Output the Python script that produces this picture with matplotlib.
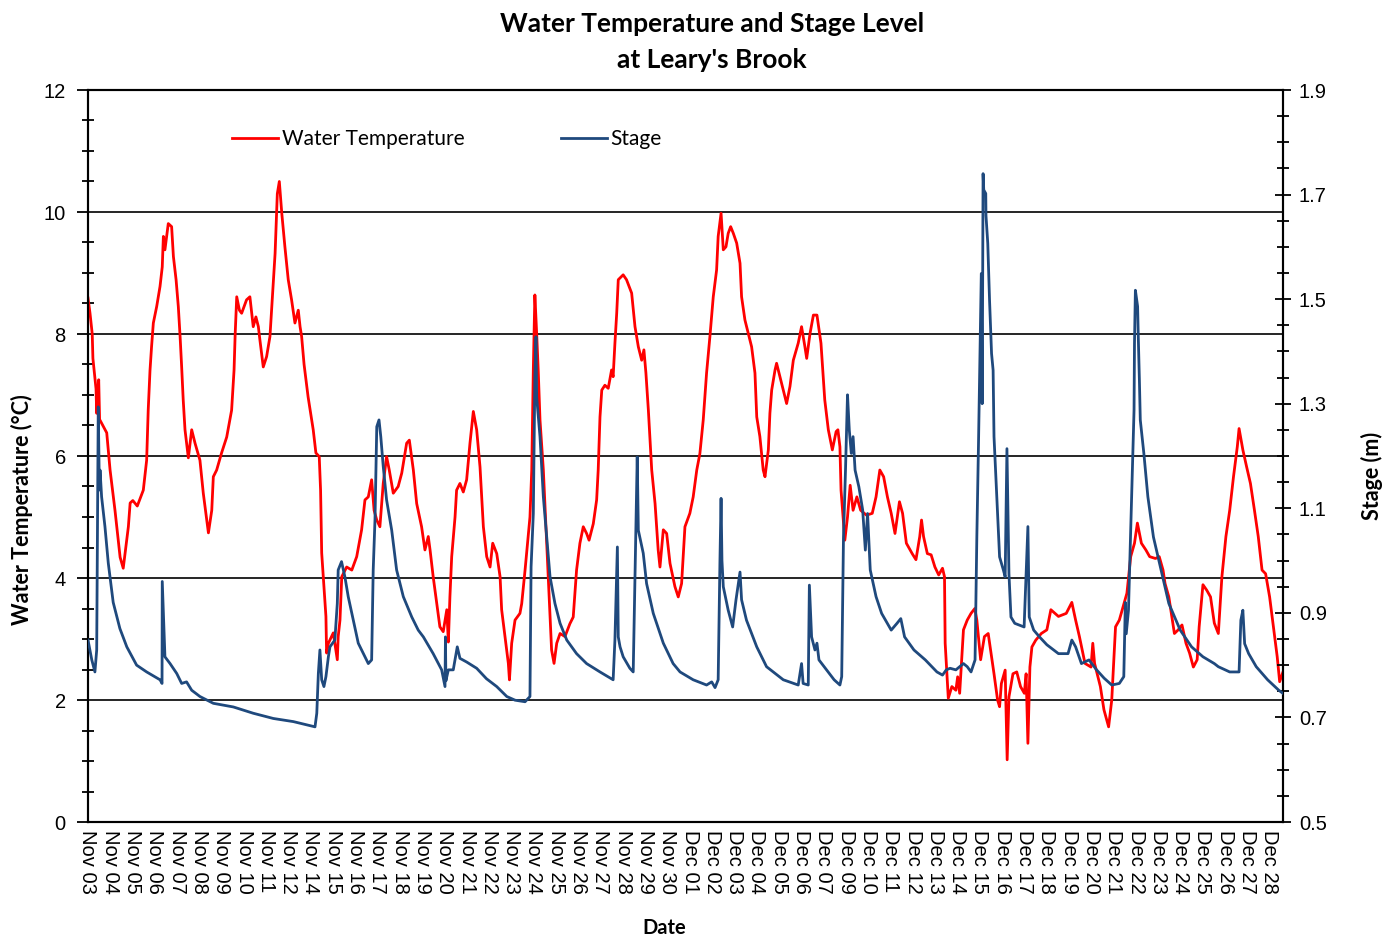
import matplotlib
matplotlib.use("Agg")
import matplotlib.pyplot as plt
from matplotlib.ticker import MultipleLocator, FixedLocator

# x positions are in label units (0 = "Nov 03", 1 = next label, ...)
date_labels = ["Nov 03", "Nov 04", "Nov 05", "Nov 06", "Nov 07", "Nov 08", "Nov 09",
               "Nov 10", "Nov 11", "Nov 12", "Nov 14", "Nov 15", "Nov 16", "Nov 17",
               "Nov 18", "Nov 19", "Nov 20", "Nov 21", "Nov 22", "Nov 23", "Nov 24",
               "Nov 25", "Nov 26", "Nov 27", "Nov 28", "Nov 29", "Nov 30", "Dec 01",
               "Dec 02", "Dec 03", "Dec 04", "Dec 05", "Dec 06", "Dec 07", "Dec 09",
               "Dec 10", "Dec 11", "Dec 12", "Dec 13", "Dec 14", "Dec 15", "Dec 16",
               "Dec 17", "Dec 18", "Dec 19", "Dec 20", "Dec 21", "Dec 22", "Dec 23",
               "Dec 24", "Dec 25", "Dec 26", "Dec 27", "Dec 28"]

# water temperature (deg C)
temp_x = [0.00, 0.09, 0.19, 0.22, 0.36, 0.39, 0.48, 0.52, 0.84, 0.99, 1.21, 1.44, 1.58,
          1.81, 1.89, 2.01, 2.21, 2.48, 2.63, 2.70, 2.78, 2.85, 2.93, 3.08, 3.23, 3.33,
          3.38, 3.45, 3.60, 3.75, 3.83, 3.95, 4.05, 4.13, 4.20, 4.27, 4.35, 4.50, 4.65,
          4.80, 5.02, 5.17, 5.40, 5.55, 5.62, 5.77, 5.99, 6.22, 6.44, 6.55, 6.60, 6.67,
          6.79, 6.89, 7.11, 7.26, 7.41, 7.53, 7.64, 7.71, 7.86, 8.01, 8.16, 8.28, 8.39,
          8.49, 8.58, 8.69, 8.83, 8.98, 9.13, 9.28, 9.43, 9.51, 9.58, 9.69, 9.87, 10.10,
          10.22, 10.37, 10.43, 10.48, 10.55, 10.67, 10.70, 10.78, 11.00, 11.18, 11.22,
          11.30, 11.38, 11.60, 11.83, 12.05, 12.27, 12.42, 12.57, 12.72, 12.83, 12.95,
          13.09, 13.24, 13.39, 13.51, 13.69, 13.91, 14.07, 14.29, 14.41, 14.59, 14.74,
          14.96, 15.11, 15.26, 15.34, 15.48, 15.64, 15.78, 15.93, 16.09, 16.16, 16.23,
          16.31, 16.46, 16.53, 16.68, 16.83, 16.98, 17.13, 17.28, 17.43, 17.58, 17.73,
          17.88, 18.03, 18.15, 18.33, 18.48, 18.55, 18.70, 18.85, 18.90, 19.00, 19.15,
          19.37, 19.45, 19.60, 19.74, 19.82, 19.90, 19.97, 20.04, 20.12, 20.19, 20.27,
          20.42, 20.57, 20.72, 20.79, 20.90, 21.02, 21.17, 21.39, 21.61, 21.76, 21.91,
          22.06, 22.21, 22.36, 22.47, 22.66, 22.81, 22.88, 22.96, 23.04, 23.18, 23.33,
          23.48, 23.55, 23.63, 23.71, 23.78, 24.00, 24.15, 24.38, 24.53, 24.68, 24.83,
          24.93, 25.02, 25.13, 25.28, 25.43, 25.57, 25.65, 25.80, 25.95, 26.10, 26.32,
          26.47, 26.62, 26.77, 26.99, 27.14, 27.30, 27.44, 27.59, 27.74, 27.89, 28.04,
          28.19, 28.26, 28.39, 28.49, 28.61, 28.71, 28.82, 28.94, 29.09, 29.24, 29.31,
          29.46, 29.61, 29.76, 29.91, 29.99, 30.13, 30.28, 30.36, 30.51, 30.58, 30.66,
          30.81, 30.88, 31.03, 31.18, 31.33, 31.48, 31.63, 31.85, 32.00, 32.15, 32.23,
          32.38, 32.53, 32.69, 32.87, 33.04, 33.20, 33.38, 33.55, 33.63, 33.72, 33.77,
          33.84, 33.94, 34.06, 34.18, 34.31, 34.48, 34.65, 34.91, 35.17, 35.34, 35.51,
          35.68, 35.85, 36.02, 36.19, 36.39, 36.53, 36.70, 36.96, 37.13, 37.30, 37.38,
          37.47, 37.64, 37.81, 37.98, 38.15, 38.32, 38.41, 38.44, 38.58, 38.74, 38.92,
          39.00, 39.09, 39.26, 39.43, 39.60, 39.77, 39.86, 40.03, 40.20, 40.37, 40.54,
          40.63, 40.79, 40.88, 40.96, 41.13, 41.22, 41.30, 41.48, 41.65, 41.82, 41.99,
          42.07, 42.15, 42.24, 42.33, 42.50, 42.75, 43.00, 43.18, 43.52, 43.87, 44.12,
          44.29, 44.46, 44.71, 44.98, 45.06, 45.14, 45.40, 45.56, 45.77, 45.91, 46.08,
          46.25, 46.42, 46.59, 46.76, 46.93, 47.06, 47.24, 47.44, 47.61, 47.87, 48.04,
          48.21, 48.30, 48.47, 48.72, 48.89, 49.06, 49.24, 49.40, 49.57, 49.74, 49.83,
          50.00, 50.17, 50.34, 50.51, 50.69, 50.85, 51.03, 51.20, 51.37, 51.54, 51.62,
          51.79, 51.96, 52.13, 52.31, 52.48, 52.65, 52.81, 52.99, 53.16, 53.33, 53.44,
          53.59]
temp_c = [8.59, 8.34, 8.00, 7.60, 7.10, 6.70, 7.25, 6.60, 6.38, 5.77, 5.11, 4.34, 4.16,
          4.84, 5.23, 5.27, 5.18, 5.44, 5.93, 6.75, 7.40, 7.79, 8.18, 8.45, 8.78, 9.10,
          9.60, 9.38, 9.81, 9.76, 9.27, 8.89, 8.45, 7.96, 7.46, 6.92, 6.43, 5.97, 6.43,
          6.21, 5.93, 5.39, 4.74, 5.11, 5.66, 5.77, 6.05, 6.31, 6.75, 7.41, 8.00, 8.61,
          8.39, 8.34, 8.56, 8.61, 8.12, 8.28, 8.12, 7.90, 7.46, 7.63, 7.96, 8.67, 9.32,
          10.30, 10.50, 9.98, 9.43, 8.89, 8.56, 8.18, 8.39, 8.12, 7.96, 7.50, 6.97, 6.43,
          6.05, 5.99, 5.44, 4.41, 4.02, 3.37, 2.77, 2.93, 3.10, 2.66, 3.04,
          3.31, 4.02, 4.18, 4.13, 4.35, 4.79, 5.28, 5.33, 5.61, 5.11, 4.95,
          4.84, 5.55, 5.99, 5.77, 5.39, 5.50, 5.72, 6.21, 6.26, 5.77, 5.22,
          4.84, 4.46, 4.68, 4.46, 4.02, 3.58, 3.20, 3.12, 3.48, 2.95, 3.69,
          4.35, 5.00, 5.44, 5.55, 5.41, 5.61, 6.21, 6.73, 6.43, 5.82, 4.84,
          4.35, 4.18, 4.57, 4.40, 4.02, 3.48, 3.04, 2.60, 2.33, 2.93, 3.31,
          3.42, 3.58, 4.13, 4.68, 5.00, 5.77, 7.41, 8.64, 8.01, 7.41, 6.59,
          5.77, 4.57, 3.36, 2.82, 2.60, 2.93, 3.09, 3.04, 3.25, 3.36, 4.13,
          4.57, 4.84, 4.73, 4.62, 4.89, 5.28, 5.77, 6.64, 7.08, 7.16, 7.11,
          7.41, 7.30, 7.85, 8.34, 8.89, 8.97, 8.89, 8.67, 8.12, 7.79, 7.57,
          7.74, 7.36, 6.75, 5.77, 5.22, 4.46, 4.18, 4.79, 4.73, 4.24, 3.86,
          3.69, 3.91, 4.84, 5.06, 5.33, 5.77, 6.04, 6.59, 7.36, 7.96, 8.61,
          9.05, 9.60, 9.98, 9.38, 9.43, 9.65, 9.76, 9.65, 9.49, 9.16, 8.61,
          8.23, 8.01, 7.79, 7.36, 6.64, 6.32, 5.77, 5.66, 6.10, 6.70, 7.08,
          7.41, 7.52, 7.30, 7.08, 6.86, 7.14, 7.57, 7.85, 8.12, 7.79, 7.60,
          8.01, 8.31, 8.31, 7.85, 6.92, 6.43, 6.10, 6.40, 6.43, 6.15, 5.44,
          5.11, 4.62, 5.00, 5.52, 5.11, 5.33, 5.11, 5.03, 5.06, 5.33, 5.77,
          5.66, 5.33, 5.06, 4.73, 5.25, 5.06, 4.57, 4.40, 4.30, 4.68, 4.95,
          4.68, 4.40, 4.38, 4.18, 4.05, 4.16, 4.02, 2.93, 2.03, 2.22, 2.16,
          2.38, 2.11, 3.15, 3.31, 3.42, 3.50, 3.31, 2.66, 3.04, 3.09, 2.66,
          2.43, 2.00, 1.89, 2.27, 2.49, 1.02, 2.05, 2.43, 2.46, 2.22, 2.11,
          2.43, 1.29, 2.54, 2.87, 2.98, 3.09, 3.15, 3.48, 3.37, 3.42, 3.60,
          3.31, 3.04, 2.60, 2.54, 2.93, 2.60, 2.22, 1.84, 1.56, 2.00, 3.20,
          3.31, 3.53, 3.75, 4.35, 4.57, 4.90, 4.57, 4.46, 4.35, 4.32, 4.35,
          4.13, 3.91, 3.69, 3.09, 3.15, 3.23, 2.93, 2.77, 2.54, 2.66, 3.20,
          3.89, 3.80, 3.69, 3.26, 3.09, 4.02, 4.68, 5.11, 5.66, 6.15, 6.45,
          6.10, 5.82, 5.55, 5.11, 4.68, 4.13, 4.07, 3.69, 3.20, 2.71, 2.30,
          2.46]

# stage (m)
stage_x = [0.00, 0.17, 0.31, 0.39, 0.46, 0.51, 0.54, 0.61, 0.76, 0.91, 1.13, 1.43, 1.74,
           2.18, 2.63, 3.23, 3.32, 3.33, 3.41, 3.45, 3.68, 3.98, 4.20, 4.42, 4.65, 5.02,
           5.62, 6.52, 7.41, 8.31, 9.21, 10.18, 10.26, 10.33, 10.40, 10.48, 10.58, 10.67,
           10.78, 10.85, 11.07, 11.18, 11.22, 11.37, 11.52, 11.67, 11.90, 12.12, 12.42,
           12.57, 12.72, 12.79, 12.87, 12.95, 13.05, 13.13, 13.24, 13.39, 13.62, 13.84,
           14.14, 14.52, 14.81, 15.04, 15.48, 15.86, 16.01, 16.03, 16.05, 16.16, 16.38,
           16.56, 16.68, 16.98, 17.43, 17.87, 18.33, 18.78, 19.15, 19.60, 19.82, 19.87,
           19.97, 20.04, 20.09, 20.12, 20.27, 20.42, 20.57, 20.72, 20.94, 21.17, 21.47,
           21.91, 22.36, 22.96, 23.55, 23.63, 23.74, 23.78, 23.86, 24.00, 24.30, 24.45,
           24.53, 24.63, 24.68, 24.90, 25.05, 25.35, 25.80, 26.24, 26.55, 27.14, 27.74,
           27.97, 28.12, 28.26, 28.34, 28.39, 28.43, 28.49, 28.71, 28.91, 29.06, 29.24,
           29.31, 29.53, 29.99, 30.43, 31.18, 31.85, 32.00, 32.07, 32.30, 32.35, 32.45,
           32.60, 32.69, 32.78, 33.12, 33.46, 33.72, 33.80, 33.88, 33.97, 34.06, 34.14,
           34.23, 34.31, 34.40, 34.57, 34.74, 34.86, 34.96, 35.08, 35.34, 35.59, 36.02,
           36.28, 36.45, 36.62, 37.04, 37.55, 38.07, 38.32, 38.49, 38.66, 38.92, 39.26,
           39.43, 39.60, 39.78, 39.86, 39.94, 40.06, 40.10, 40.14, 40.17, 40.26, 40.27,
           40.35, 40.43, 40.52, 40.59, 40.63, 40.77, 40.88, 41.05, 41.13, 41.21, 41.30,
           41.39, 41.56, 41.98, 42.15, 42.21, 42.41, 42.67, 43.00, 43.52, 43.95, 44.12,
           44.29, 44.55, 44.89, 45.23, 45.57, 45.91, 46.25, 46.45, 46.52, 46.56, 46.66,
           46.80, 46.91, 46.93, 46.97, 47.07, 47.10, 47.15, 47.19, 47.35, 47.53, 47.78,
           48.12, 48.47, 48.98, 49.49, 50.00, 50.51, 50.69, 51.20, 51.62, 51.70, 51.79,
           51.87, 52.05, 52.39, 52.90, 53.40, 53.59]
stage_m = [0.848, 0.810, 0.787, 0.829, 1.294, 1.135, 1.173, 1.122, 1.065, 0.995, 0.920,
           0.870, 0.835, 0.800, 0.787, 0.772, 0.765, 0.960, 0.867, 0.816, 0.803, 0.784,
           0.765, 0.768, 0.752, 0.740, 0.727, 0.720, 0.708, 0.698, 0.692, 0.682, 0.708,
           0.784, 0.829, 0.772, 0.759, 0.778, 0.816, 0.835, 0.848, 0.918, 0.982, 0.998,
           0.969, 0.931, 0.886, 0.842, 0.816, 0.803, 0.810, 0.982, 1.078, 1.256, 1.269,
           1.237, 1.180, 1.116, 1.058, 0.982, 0.931, 0.892, 0.867, 0.854, 0.822, 0.791,
           0.759, 0.854, 0.770, 0.791, 0.791, 0.835, 0.813, 0.806, 0.794, 0.774, 0.759,
           0.740, 0.733, 0.730, 0.740, 0.988, 1.090, 1.350, 1.428, 1.313, 1.237, 1.122,
           1.045, 0.969, 0.918, 0.880, 0.848, 0.822, 0.803, 0.787, 0.772, 0.848, 1.026,
           0.854, 0.835, 0.816, 0.794, 0.787, 0.969, 1.198, 1.058, 1.014, 0.956, 0.899,
           0.842, 0.803, 0.787, 0.772, 0.762, 0.768, 0.757, 0.772, 1.000, 1.119, 1.000,
           0.950, 0.905, 0.873, 0.925, 0.978, 0.925, 0.886, 0.835, 0.797, 0.772, 0.762,
           0.803, 0.765, 0.762, 0.953, 0.854, 0.829, 0.842, 0.810, 0.791, 0.772, 0.762,
           0.778, 1.045, 1.173, 1.317, 1.250, 1.205, 1.237, 1.173, 1.141, 1.097, 1.020,
           1.090, 0.982, 0.931, 0.899, 0.867, 0.880, 0.889, 0.854, 0.829, 0.810, 0.787,
           0.781, 0.791, 0.794, 0.791, 0.803, 0.797, 0.787, 0.810, 1.045, 1.237, 1.549,
           1.300, 1.740, 1.709, 1.702, 1.660, 1.607, 1.498, 1.396, 1.364, 1.237, 1.109,
           1.007, 0.982, 0.969, 1.214, 0.975, 0.892, 0.880, 0.873, 1.065, 0.892, 0.867,
           0.854, 0.839, 0.822, 0.822, 0.848, 0.835, 0.803, 0.810, 0.791, 0.775, 0.762,
           0.765, 0.778, 0.920, 0.860, 0.905, 1.122, 1.288, 1.415, 1.517, 1.486, 1.428,
           1.345, 1.269, 1.205, 1.122, 1.045, 0.982, 0.918, 0.867, 0.835, 0.816, 0.803,
           0.797, 0.787, 0.787, 0.886, 0.905, 0.841, 0.822, 0.797, 0.772, 0.752, 0.746]

plt.rcParams['font.family'] = ['Liberation Sans', 'DejaVu Sans']

fig = plt.figure(figsize=(13.94, 9.38), dpi=100)
ax = fig.add_axes([88 / 1394, 1 - 822 / 938, (1283 - 88) / 1394, (822 - 90) / 938])
ax2 = ax.twinx()

red_line, = ax.plot(temp_x, temp_c, color='#FF0000', lw=2.0, zorder=3)
blue_line, = ax2.plot(stage_x, stage_m, color='#1F497D', lw=2.0, zorder=3)

ax.set_xlim(0, 53.59)
ax.set_ylim(0, 12)
ax2.set_ylim(0.5, 1.9)

ax.yaxis.set_major_locator(MultipleLocator(2))
ax.yaxis.set_minor_locator(MultipleLocator(0.5))
ax2.yaxis.set_major_locator(FixedLocator([0.5, 0.7, 0.9, 1.1, 1.3, 1.5, 1.7, 1.9]))
ax2.yaxis.set_minor_locator(MultipleLocator(0.05))
ax2.set_yticklabels(['0.5', '0.7', '0.9', '1.1', '1.3', '1.5', '1.7', '1.9'])

ax.set_xticks(range(len(date_labels)))
ax.set_xticklabels(date_labels, rotation=-90, fontsize=14.5)
ax.tick_params(axis='x', length=0, pad=6)
ax.tick_params(axis='y', which='major', direction='out', length=8, width=1.3,
               labelsize=14.5, pad=8)
ax.tick_params(axis='y', which='minor', direction='inout', length=9, width=1.3)
ax2.tick_params(axis='y', which='major', direction='inout', length=11, width=1.3,
                labelsize=14.5, pad=6)
ax2.tick_params(axis='y', which='minor', direction='inout', length=9, width=1.3)

ax.grid(axis='y', which='major', color='black', lw=1.2)
ax.set_axisbelow(True)
for a in (ax, ax2):
    for s in a.spines.values():
        s.set_linewidth(1.5)

leg = ax2.legend([red_line, blue_line], ['Water Temperature', 'Stage'], ncol=2,
                 frameon=False, loc='upper left', bbox_to_anchor=(0.105, 0.972),
                 handlelength=2.2, handletextpad=0.2, columnspacing=4.6,
                 prop={'family': 'Lato', 'size': 15})

fig.text(712 / 1394, 1 - 42 / 938, "Water Temperature and Stage Level\nat Leary's Brook",
         ha='center', va='center', fontsize=19, fontweight='bold', family='Lato',
         linespacing=1.6)
fig.text(664 / 1394, 1 - 928 / 938, 'Date', ha='center', va='center', fontsize=14.5,
         fontweight='bold', family='Lato')
fig.text(22 / 1394, 1 - 510 / 938, 'Water Temperature (°C)', ha='center', va='center',
         rotation=90, fontsize=15.5, fontweight='bold', family='Lato')
fig.text(1372 / 1394, 1 - 476 / 938, 'Stage (m)', ha='center', va='center',
         rotation=90, fontsize=15.5, fontweight='bold', family='Lato')

fig.savefig('out.png', dpi=100)
